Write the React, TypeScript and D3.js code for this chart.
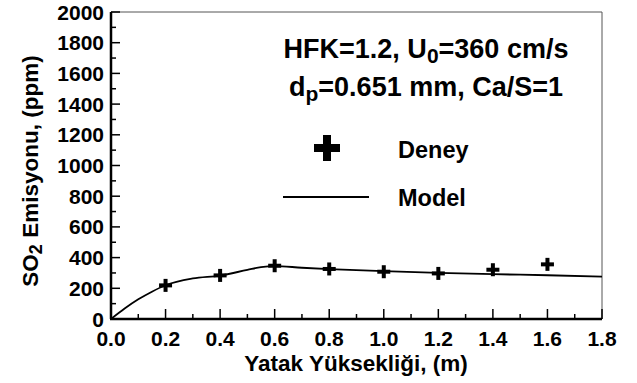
import * as d3 from 'd3';

// Deney (experiment) points
const deneyX = [0.2, 0.4, 0.6, 0.8, 1.0, 1.2, 1.4, 1.6];
const deneyY = [219, 284, 347, 326, 308, 297, 321, 356];

// Model curve
const modelX = [0, 0.05, 0.1, 0.15, 0.2, 0.3, 0.4, 0.5, 0.55, 0.6, 0.7, 0.8, 1.0, 1.2, 1.4, 1.6, 1.8];
const modelY = [0, 68, 128, 178, 220, 264, 283, 320, 338, 345, 334, 325, 312, 301, 292, 285, 276];

const xTicks = [0, 0.2, 0.4, 0.6, 0.8, 1.0, 1.2, 1.4, 1.6, 1.8];
const yTicks = [0, 200, 400, 600, 800, 1000, 1200, 1400, 1600, 1800, 2000];

const W = 637;
const H = 383;
const margin = { top: 12, right: 35, bottom: 64, left: 111 };
const font = '"Liberation Sans", Arial, sans-serif';

const Plus = ({ cx, cy, size, thick }: { cx: number; cy: number; size: number; thick: number }) => (
  <g fill="#000">
    <rect x={cx - size / 2} y={cy - thick / 2} width={size} height={thick} />
    <rect x={cx - thick / 2} y={cy - size / 2} width={thick} height={size} />
  </g>
);

export default function App() {
  const x = d3.scaleLinear().domain([0, 1.8]).range([margin.left, W - margin.right]);
  const y = d3.scaleLinear().domain([0, 2000]).range([H - margin.bottom, margin.top]);

  const line = d3
    .line<number>()
    .x((d, i) => x(modelX[i]))
    .y((d) => y(d))
    .curve(d3.curveMonotoneX);

  const xMinor = d3.range(0.1, 1.8, 0.2);
  const yMinor = d3.range(100, 2000, 200);
  const x0 = x(0);
  const x1 = x(1.8);
  const y0 = y(0);
  const y1 = y(2000);

  return (
    <svg width={W} height={H} style={{ position: 'absolute', left: 0, top: 0, background: '#fff' }} fontFamily={font} fontWeight="bold">
      {/* frame */}
      <line x1={x0} x2={x1} y1={y1} y2={y1} stroke="#555" strokeWidth={1} />
      <line x1={x1} x2={x1} y1={y1} y2={y0} stroke="#555" strokeWidth={1} />

      {/* model line */}
      <path d={line(modelY) || ''} fill="none" stroke="#000" strokeWidth={1.8} />

      {/* deney markers */}
      {deneyX.map((d, i) => (
        <Plus key={i} cx={x(d)} cy={y(deneyY[i])} size={13} thick={4} />
      ))}

      {/* y ticks */}
      {yTicks.map((t) => (
        <g key={t}>
          <line x1={x0} x2={x0 + 9} y1={y(t)} y2={y(t)} stroke="#000" strokeWidth={1.5} />
          <text x={x0 - 7} y={y(t) + 7.5} textAnchor="end" fontSize={21}>{t}</text>
        </g>
      ))}
      {yMinor.map((t) => (
        <line key={t} x1={x0} x2={x0 + 5} y1={y(t)} y2={y(t)} stroke="#000" strokeWidth={1.5} />
      ))}

      {/* x ticks */}
      {xTicks.map((t) => (
        <g key={t}>
          <line x1={x(t)} x2={x(t)} y1={y0} y2={y0 - 10} stroke="#000" strokeWidth={1.5} />
          <text x={x(t)} y={y0 + 27} textAnchor="middle" fontSize={21}>{t.toFixed(1)}</text>
        </g>
      ))}
      {xMinor.map((t) => (
        <line key={t} x1={x(t)} x2={x(t)} y1={y0} y2={y0 - 5} stroke="#000" strokeWidth={1.5} />
      ))}

      {/* axes */}
      <line x1={x0} x2={x0} y1={y1} y2={y0} stroke="#000" strokeWidth={2.5} />
      <line x1={x0 - 1} x2={x1} y1={y0} y2={y0} stroke="#000" strokeWidth={2.5} />

      {/* axis titles */}
      <text x={356} y={371} textAnchor="middle" fontSize={22.5}>Yatak Yüksekliği, (m)</text>
      <text transform="translate(38,171) rotate(-90)" textAnchor="middle" fontSize={22.5}>
        SO<tspan fontSize={18} dy={4}>2</tspan><tspan dy={-4}> Emisyonu, (ppm)</tspan>
      </text>

      {/* annotation */}
      <text x={426} y={58} textAnchor="middle" fontSize={27}>
        HFK=1.2, U<tspan fontSize={21} dy={5}>0</tspan><tspan dy={-5}>=360 cm/s</tspan>
      </text>
      <text x={426} y={96} textAnchor="middle" fontSize={27}>
        d<tspan fontSize={21} dy={5}>p</tspan><tspan dy={-5}>=0.651 mm, Ca/S=1</tspan>
      </text>

      {/* legend */}
      <Plus cx={327} cy={148} size={26} thick={8} />
      <text x={398} y={158} fontSize={23.5}>Deney</text>
      <line x1={283} x2={369} y1={197} y2={197} stroke="#000" strokeWidth={1.8} />
      <text x={398} y={206} fontSize={23.5}>Model</text>
    </svg>
  );
}
